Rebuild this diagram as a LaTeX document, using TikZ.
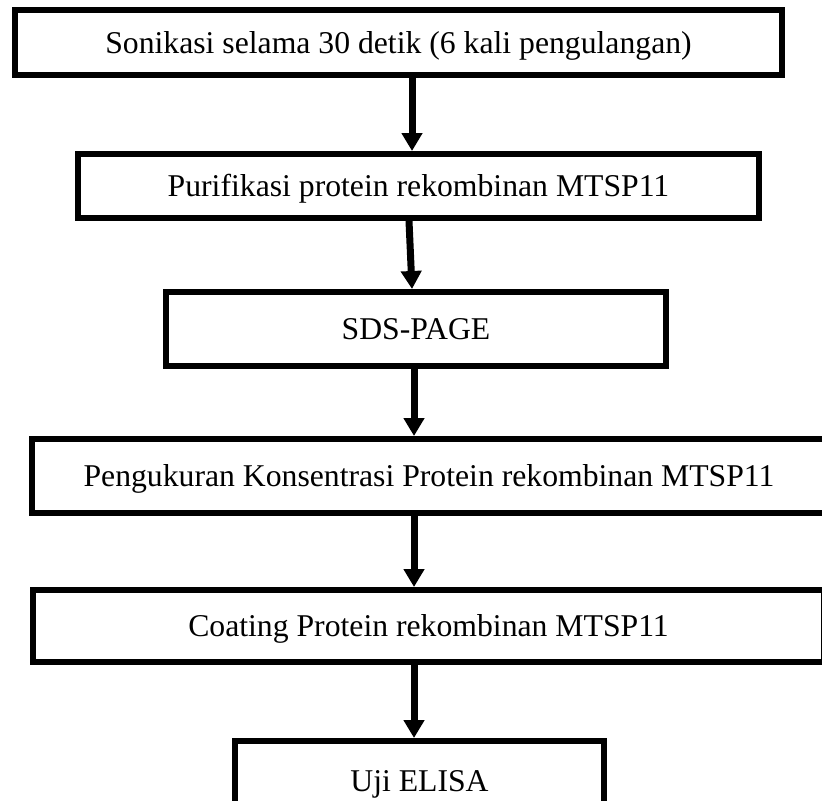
\documentclass[tikz,border=0pt]{standalone}
\usepackage{fontspec}
\setmainfont{Liberation Serif}
\usetikzlibrary{arrows.meta}
\begin{document}
\begin{tikzpicture}[x=0.5pt,y=-0.5pt,
  box/.style={draw=black,line width=3pt,fill=white,rectangle,inner sep=0pt,
    font=\fontsize{15.85}{19}\selectfont,text height=10.5pt,text depth=0pt},
  flow/.style={line width=3.5pt,-{Triangle[width=10pt,length=9pt]}}]
\useasboundingbox (0,0) rectangle (822,800);
\clip (0,0) rectangle (822,800);
\fill[white] (0,0) rectangle (822,800);
\node[box,minimum width=383.5pt,minimum height=32.5pt] (b1) at (398.5,42.5) {Sonikasi selama 30 detik (6 kali pengulangan)\hspace{4pt}};
\node[box,minimum width=340.5pt,minimum height=32pt] (b2) at (418.5,186) {Purifikasi protein rekombinan MTSP11};
\node[box,minimum width=250pt,minimum height=37pt] (b3) at (416,329) {SDS-PAGE};
\node[box,minimum width=397pt,minimum height=37pt] (b4) at (429,476) {Pengukuran Konsentrasi Protein rekombinan MTSP11};
\node[box,minimum width=395.5pt,minimum height=36pt] (b5) at (428.5,626) {Coating Protein rekombinan MTSP11};
\node[box,minimum width=184.5pt,minimum height=40pt] (b6) at (419.5,781) {Uji ELISA\hspace{7pt}};
\coordinate (xa) at (412,0);
\coordinate (xb) at (409,0);
\coordinate (xc) at (414,0);
\draw[flow] (b1.south -| xa) -- (b2.north -| xa);
\draw[flow] (b2.south -| xb) -- (b3.north -| xa);
\draw[flow] (b3.south -| xc) -- (b4.north -| xc);
\draw[flow] (b4.south -| xc) -- (b5.north -| xc);
\draw[flow] (b5.south -| xc) -- (b6.north -| xc);
\end{tikzpicture}
\end{document}
